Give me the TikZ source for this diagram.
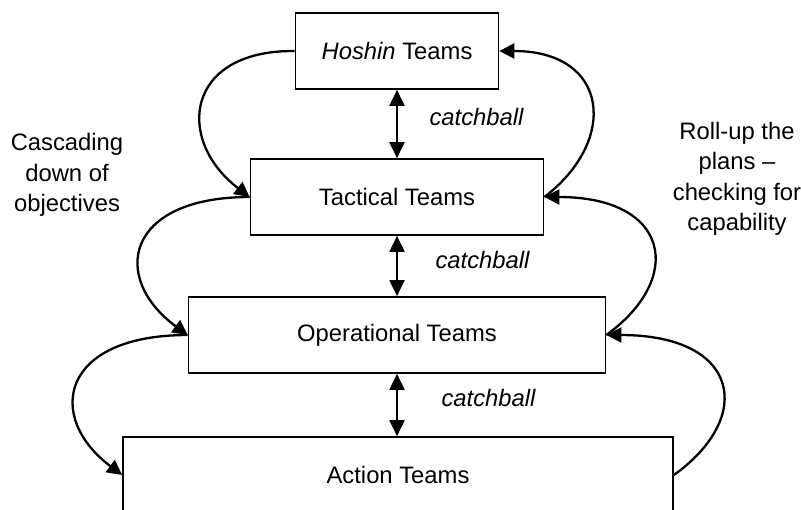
\documentclass[tikz,border=0pt]{standalone}
\usepackage{fontspec}
\setmainfont{Liberation Sans}
\usetikzlibrary{arrows.meta}
\begin{document}
\begin{tikzpicture}[x=0.5pt,y=-0.5pt,
  team/.style={draw,line width=0.85pt,minimum height=38pt,inner sep=0pt,font=\fontsize{11.9}{15}\selectfont},
  cb/.style={line width=1pt,{Triangle[length=8pt,width=7.5pt]}-{Triangle[length=8pt,width=7.5pt]}},
  flow/.style={line width=1.15pt,-{Triangle[length=7.5pt,width=7.5pt]}},
  lbl/.style={font=\fontsize{11.9}{15}\selectfont\itshape},
  side/.style={align=center,font=\fontsize{11.9}{15.2}\selectfont}]
\useasboundingbox (0,0) rectangle (801,509);
\node[team,minimum width=101.5pt] (hos) at (397,51) {\textit{Hoshin} Teams};
\node[team,minimum width=146.5pt] (tac) at (397,197) {Tactical Teams};
\node[team,minimum width=208.5pt] (op) at (397,335) {Operational Teams};
\node[team,minimum width=275pt] (act) at (398,475) {Action Teams};
\draw[cb] (hos.south) -- (tac.north);
\draw[cb] (tac.south) -- (op.north);
\draw[cb] (op.south) -- (op.south |- act.north);
\node[lbl] (c1) at (476.5,117) {catchball};
\node[lbl] (c2) at (482.5,260) {catchball};
\node[lbl] (c3) at (488.5,398) {catchball};
\node[side] (cas) at (67,175) {Cascading\\down of\\objectives};
\node[side] (rol) at (737,179) {Roll-up the\\plans --\\checking for\\capability};
\draw[flow] (hos.west) .. controls (185,50) and (175,140) .. (tac.west);
\draw[flow] (tac.west) .. controls (125,197) and (110,278) .. (op.west);
\draw[flow] (op.west) .. controls (60,335) and (45,417) .. (act.west);
\draw[flow] (tac.east) .. controls (619,140) and (609,51) .. (hos.east);
\draw[flow] (op.east) .. controls (685,278) and (670,197) .. (tac.east);
\draw[flow] (act.east) .. controls (755,417) and (740,335) .. (op.east);
\end{tikzpicture}
\end{document}
